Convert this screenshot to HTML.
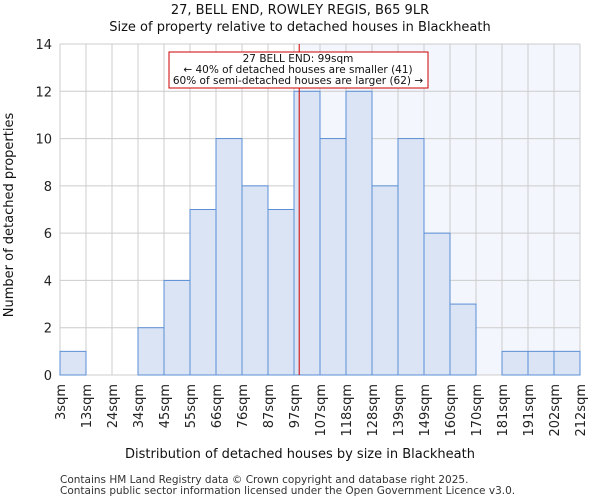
<!DOCTYPE html>
<html><head><meta charset="utf-8"><style>body{margin:0;background:#fff}svg{font-family:"DejaVu Sans","Liberation Sans",sans-serif;display:block}</style></head>
<body>
<svg id="chart" xmlns="http://www.w3.org/2000/svg" width="600" height="500">
<g id="g"></g>
<g id="overlay">
<rect x="169" y="52" width="259" height="36" fill="#fff" stroke="#cc0000"/>
<text x="298" y="62" text-anchor="middle" font-size="10.5" fill="#111">27 BELL END: 99sqm</text>
<text x="298" y="73" text-anchor="middle" font-size="10.5" fill="#111">← 40% of detached houses are smaller (41)</text>
<text x="298" y="84" text-anchor="middle" font-size="10.5" fill="#111">60% of semi-detached houses are larger (62) →</text>
</g>
<text x="300" y="14" text-anchor="middle" font-size="13" fill="#111">27, BELL END, ROWLEY REGIS, B65 9LR</text>
<text x="300" y="31" text-anchor="middle" font-size="13" fill="#111">Size of property relative to detached houses in Blackheath</text>
<text x="0" y="0" transform="translate(13 215) rotate(-90)" text-anchor="middle" font-size="13" fill="#111">Number of detached properties</text>
<text x="300" y="458" text-anchor="middle" font-size="13" fill="#111">Distribution of detached houses by size in Blackheath</text>
<text x="60" y="483" font-size="10.5" fill="#333">Contains HM Land Registry data © Crown copyright and database right 2025.</text>
<text x="60" y="494" font-size="10.5" fill="#333">Contains public sector information licensed under the Open Government Licence v3.0.</text>
</svg>
<script>
const categories=["3sqm","13sqm","24sqm","34sqm","45sqm","55sqm","66sqm","76sqm","87sqm","97sqm","107sqm","118sqm","128sqm","139sqm","149sqm","160sqm","170sqm","181sqm","191sqm","202sqm","212sqm"];
const counts=[1,0,0,2,4,7,10,8,7,12,10,12,8,10,6,3,0,1,1,1];
const yTicks=[0,2,4,6,8,10,12,14];
const markerIndex=9.2;
const L=60,R=580,T=44,B=375,yMax=14;
const nb=counts.length;
const xs=i=>L+(R-L)*i/nb;
const ys=v=>B-(B-T)*v/yMax;
const NS="http://www.w3.org/2000/svg";
const g=document.getElementById('g');
function mk(t,a,p){const e=document.createElementNS(NS,t);for(const k in a)e.setAttribute(k,a[k]);(p||g).appendChild(e);return e;}
const mx=xs(markerIndex);
let e=mk('rect',{x:mx,y:T,width:R-mx,height:B-T,fill:'#f3f6fd'});


for(let i=0;i<=nb;i++){e=mk('line',{x1:xs(i),x2:xs(i),y1:T,y2:B,stroke:'#cccccc','stroke-width':1});

}
yTicks.forEach(v=>{e=mk('line',{x1:L,x2:R,y1:ys(v),y2:ys(v),stroke:'#cccccc','stroke-width':1});


e=mk('text',{x:L-8,y:ys(v)+5,'text-anchor':'end','font-size':13,fill:'#222'});e.textContent=v;

});
counts.forEach((c,i)=>{if(c<=0)return;e=mk('rect',{x:xs(i),y:ys(c),width:xs(i+1)-xs(i),height:B-ys(c),fill:'#dae4f4',stroke:'#5b8fd6','stroke-width':1});

});
categories.forEach((c,i)=>{const x=xs(i)+5,y=384;e=mk('text',{x:x,y:y,transform:`rotate(-90 ${x} ${y})`,'text-anchor':'end','font-size':13,fill:'#222'});e.textContent=c;

});
e=mk('line',{x1:mx,x2:mx,y1:T,y2:B,stroke:'#cc0000','stroke-width':1});


document.getElementById('chart').appendChild(document.getElementById('overlay'));
</script>
</body></html>
